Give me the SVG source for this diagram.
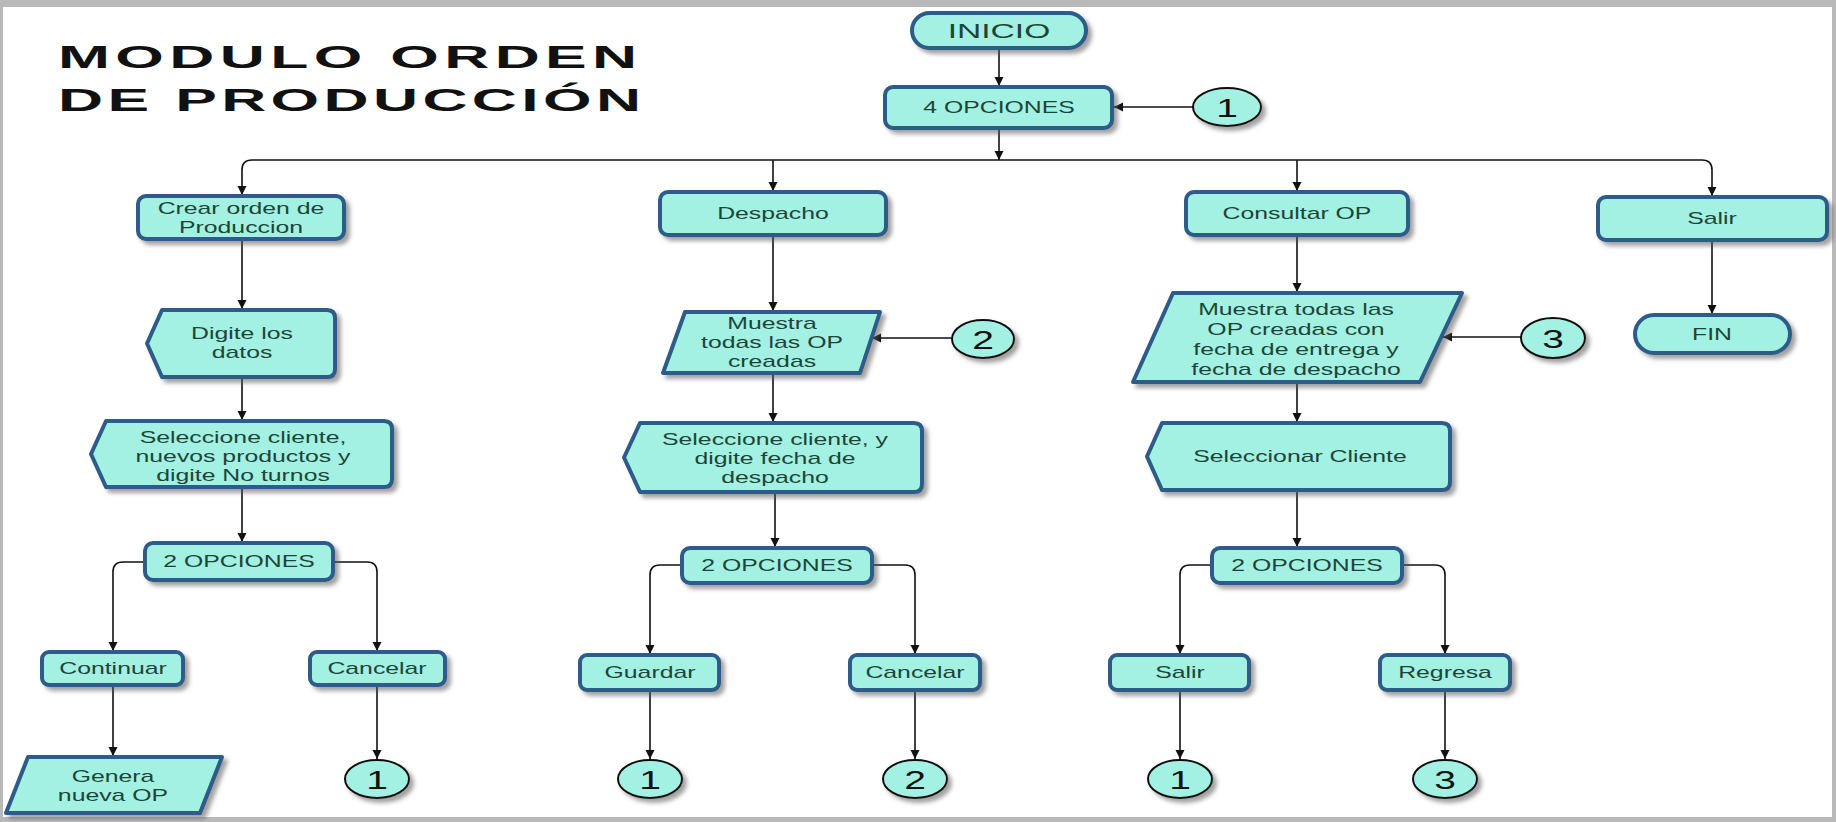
<svg xmlns="http://www.w3.org/2000/svg" width="1836" height="822" viewBox="0 0 1836 822">
<style>
.sh{fill:#a3f1e3;stroke:#2d5b88;stroke-width:4;stroke-linejoin:round;filter:url(#ds)}
.cc{fill:#a3f1e3;stroke:#111;stroke-width:2;filter:url(#ds)}
.t{font-family:"Liberation Sans",Arial,sans-serif;font-size:16px;fill:#1d4537;text-anchor:middle}
.n{font-family:"Liberation Sans",Arial,sans-serif;font-size:26px;fill:#111;text-anchor:middle}
.ttl{font-family:"Liberation Sans",Arial,sans-serif;font-weight:bold;font-size:32px;fill:#111}
.c{fill:none;stroke:#111;stroke-width:1.6;marker-end:url(#ah)}
</style>
<defs>
<filter id="ds" x="-20%" y="-30%" width="140%" height="170%">
<feDropShadow dx="4" dy="4" stdDeviation="2" flood-color="#555" flood-opacity="0.55"/>
</filter>
<marker id="ah" viewBox="0 0 10 10" refX="10" refY="5" markerWidth="9" markerHeight="10" markerUnits="userSpaceOnUse" orient="auto">
<path d="M0,0 L10,5 L0,10 Z" fill="#111"/>
</marker>
</defs>
<rect x="0" y="0" width="1836" height="822" fill="#b9b9b9"/>
<rect x="3" y="7" width="1829" height="810" fill="#ffffff"/>

<g id="title">
<text class="ttl" transform="matrix(1.95 0 0 1 58 0)" x="0" y="68" textLength="297" lengthAdjust="spacing">MODULO ORDEN</text>
<text class="ttl" transform="matrix(1.95 0 0 1 58 0)" x="0" y="111" textLength="299" lengthAdjust="spacing">DE PRODUCCIÓN</text>
</g>

<g id="connectors">
<path class="c" d="M999,48 V86"/>
<path class="c" d="M1193,107 H1114"/>
<path class="c" d="M999,129 V160"/>
<path class="c" d="M999,160 H252 Q242,160 242,170 V195"/>
<path class="c" d="M999,160 H1702 Q1712,160 1712,170 V196"/>
<path class="c" d="M773,160 V191"/>
<path class="c" d="M1297,160 V191"/>
<path class="c" d="M242,239 V309"/>
<path class="c" d="M242,377 V420"/>
<path class="c" d="M242,487 V542"/>
<path class="c" d="M145,562 H123 Q113,562 113,572 V651"/>
<path class="c" d="M333,562 H367 Q377,562 377,572 V651"/>
<path class="c" d="M113,685 V756"/>
<path class="c" d="M377,685 V759"/>
<path class="c" d="M773,235 V311"/>
<path class="c" d="M952,338 H872"/>
<path class="c" d="M773,373 V422"/>
<path class="c" d="M775,492 V547"/>
<path class="c" d="M682,565 H660 Q650,565 650,575 V654"/>
<path class="c" d="M872,565 H905 Q915,565 915,575 V654"/>
<path class="c" d="M650,690 V759"/>
<path class="c" d="M915,690 V759"/>
<path class="c" d="M1297,235 V292"/>
<path class="c" d="M1521,337 H1443"/>
<path class="c" d="M1297,382 V422"/>
<path class="c" d="M1297,490 V547"/>
<path class="c" d="M1212,565 H1190 Q1180,565 1180,575 V654"/>
<path class="c" d="M1402,565 H1435 Q1445,565 1445,575 V654"/>
<path class="c" d="M1180,690 V759"/>
<path class="c" d="M1445,690 V759"/>
<path class="c" d="M1712,240 V314"/>
</g>

<g id="inicio">
<rect class="sh" x="912" y="13" width="174" height="35" rx="17.5"/>
<text class="t" style="font-size:21px" transform="matrix(1.6 0 0 1 999 0)" x="0" y="38">INICIO</text>
</g>
<g id="opciones4">
<rect class="sh" x="885" y="87" width="227" height="41" rx="8"/>
<text class="t" transform="matrix(1.55 0 0 1 999 0)" x="0" y="113">4 OPCIONES</text>
</g>
<g id="con1-top">
<ellipse class="cc" cx="1227" cy="107" rx="34" ry="19"/>
<text class="n" transform="matrix(1.5 0 0 1 1227 0)" x="0" y="117">1</text>
</g>

<g id="crear">
<rect class="sh" x="138" y="196" width="206" height="43" rx="8"/>
<text class="t" transform="matrix(1.55 0 0 1 241 0)"><tspan x="0" y="214">Crear orden de</tspan><tspan x="0" y="233">Produccion</tspan></text>
</g>
<g id="despacho">
<rect class="sh" x="660" y="192" width="226" height="43" rx="8"/>
<text class="t" transform="matrix(1.55 0 0 1 773 0)" x="0" y="219">Despacho</text>
</g>
<g id="consultar">
<rect class="sh" x="1186" y="192" width="222" height="43" rx="8"/>
<text class="t" transform="matrix(1.55 0 0 1 1297 0)" x="0" y="219">Consultar OP</text>
</g>
<g id="salir-main">
<rect class="sh" x="1598" y="197" width="229" height="43" rx="8"/>
<text class="t" transform="matrix(1.55 0 0 1 1712 0)" x="0" y="224">Salir</text>
</g>
<g id="fin">
<rect class="sh" x="1635" y="315" width="155" height="38" rx="19"/>
<text class="t" transform="matrix(1.55 0 0 1 1712 0)" x="0" y="340">FIN</text>
</g>

<g id="digite">
<path class="sh" d="M162,310 H327 Q335,310 335,318 V369 Q335,377 327,377 H162 L147,343.5 Z"/>
<text class="t" transform="matrix(1.55 0 0 1 242 0)"><tspan x="0" y="339">Digite los</tspan><tspan x="0" y="358">datos</tspan></text>
</g>
<g id="seleccione1">
<path class="sh" d="M106,421 H384 Q392,421 392,429 V479 Q392,487 384,487 H106 L91,454 Z"/>
<text class="t" transform="matrix(1.55 0 0 1 243 0)"><tspan x="0" y="443">Seleccione cliente,</tspan><tspan x="0" y="462">nuevos productos y</tspan><tspan x="0" y="481">digite No turnos</tspan></text>
</g>
<g id="opciones2-a">
<rect class="sh" x="145" y="543" width="188" height="37" rx="8"/>
<text class="t" transform="matrix(1.55 0 0 1 239 0)" x="0" y="567">2 OPCIONES</text>
</g>
<g id="continuar">
<rect class="sh" x="42" y="652" width="141" height="33" rx="7"/>
<text class="t" transform="matrix(1.55 0 0 1 113 0)" x="0" y="674">Continuar</text>
</g>
<g id="cancelar-a">
<rect class="sh" x="310" y="652" width="135" height="33" rx="7"/>
<text class="t" transform="matrix(1.55 0 0 1 377 0)" x="0" y="674">Cancelar</text>
</g>
<g id="genera">
<path class="sh" d="M28,757 H222 L200,813 H6 Z"/>
<text class="t" transform="matrix(1.55 0 0 1 113 0)"><tspan x="0" y="782">Genera</tspan><tspan x="0" y="801">nueva OP</tspan></text>
</g>
<g id="con1-a">
<ellipse class="cc" cx="377" cy="779" rx="32" ry="19"/>
<text class="n" transform="matrix(1.5 0 0 1 377 0)" x="0" y="789">1</text>
</g>

<g id="muestra2">
<path class="sh" d="M685,312 H880 L860,373 H663 Z"/>
<text class="t" transform="matrix(1.55 0 0 1 772 0)"><tspan x="0" y="329">Muestra</tspan><tspan x="0" y="348">todas las OP</tspan><tspan x="0" y="367">creadas</tspan></text>
</g>
<g id="con2-in">
<ellipse class="cc" cx="983" cy="339" rx="31" ry="19"/>
<text class="n" transform="matrix(1.5 0 0 1 983 0)" x="0" y="349">2</text>
</g>
<g id="seleccione2">
<path class="sh" d="M640,423 H914 Q922,423 922,431 V484 Q922,492 914,492 H640 L624,457.5 Z"/>
<text class="t" transform="matrix(1.55 0 0 1 775 0)"><tspan x="0" y="445">Seleccione cliente, y</tspan><tspan x="0" y="464">digite fecha de</tspan><tspan x="0" y="483">despacho</tspan></text>
</g>
<g id="opciones2-b">
<rect class="sh" x="682" y="548" width="190" height="35" rx="8"/>
<text class="t" transform="matrix(1.55 0 0 1 777 0)" x="0" y="571">2 OPCIONES</text>
</g>
<g id="guardar">
<rect class="sh" x="580" y="655" width="139" height="35" rx="7"/>
<text class="t" transform="matrix(1.55 0 0 1 650 0)" x="0" y="678">Guardar</text>
</g>
<g id="cancelar-b">
<rect class="sh" x="850" y="655" width="130" height="35" rx="7"/>
<text class="t" transform="matrix(1.55 0 0 1 915 0)" x="0" y="678">Cancelar</text>
</g>
<g id="con1-b">
<ellipse class="cc" cx="650" cy="779" rx="32" ry="19"/>
<text class="n" transform="matrix(1.5 0 0 1 650 0)" x="0" y="789">1</text>
</g>
<g id="con2-b">
<ellipse class="cc" cx="915" cy="779" rx="32" ry="19"/>
<text class="n" transform="matrix(1.5 0 0 1 915 0)" x="0" y="789">2</text>
</g>

<g id="muestra3">
<path class="sh" d="M1173,293 H1462 L1420,382 H1133 Z"/>
<text class="t" transform="matrix(1.55 0 0 1 1296 0)"><tspan x="0" y="315">Muestra todas las</tspan><tspan x="0" y="335">OP creadas con</tspan><tspan x="0" y="355">fecha de entrega y</tspan><tspan x="0" y="375">fecha de despacho</tspan></text>
</g>
<g id="con3-in">
<ellipse class="cc" cx="1553" cy="338" rx="32" ry="20"/>
<text class="n" transform="matrix(1.5 0 0 1 1553 0)" x="0" y="348">3</text>
</g>
<g id="seleccionar">
<path class="sh" d="M1162,423 H1442 Q1450,423 1450,431 V482 Q1450,490 1442,490 H1162 L1147,456.5 Z"/>
<text class="t" transform="matrix(1.55 0 0 1 1300 0)" x="0" y="462">Seleccionar Cliente</text>
</g>
<g id="opciones2-c">
<rect class="sh" x="1212" y="548" width="190" height="35" rx="8"/>
<text class="t" transform="matrix(1.55 0 0 1 1307 0)" x="0" y="571">2 OPCIONES</text>
</g>
<g id="salir-c">
<rect class="sh" x="1110" y="655" width="139" height="35" rx="7"/>
<text class="t" transform="matrix(1.55 0 0 1 1180 0)" x="0" y="678">Salir</text>
</g>
<g id="regresa">
<rect class="sh" x="1380" y="655" width="130" height="35" rx="7"/>
<text class="t" transform="matrix(1.55 0 0 1 1445 0)" x="0" y="678">Regresa</text>
</g>
<g id="con1-c">
<ellipse class="cc" cx="1180" cy="779" rx="32" ry="19"/>
<text class="n" transform="matrix(1.5 0 0 1 1180 0)" x="0" y="789">1</text>
</g>
<g id="con3-c">
<ellipse class="cc" cx="1445" cy="779" rx="32" ry="19"/>
<text class="n" transform="matrix(1.5 0 0 1 1445 0)" x="0" y="789">3</text>
</g>
</svg>
